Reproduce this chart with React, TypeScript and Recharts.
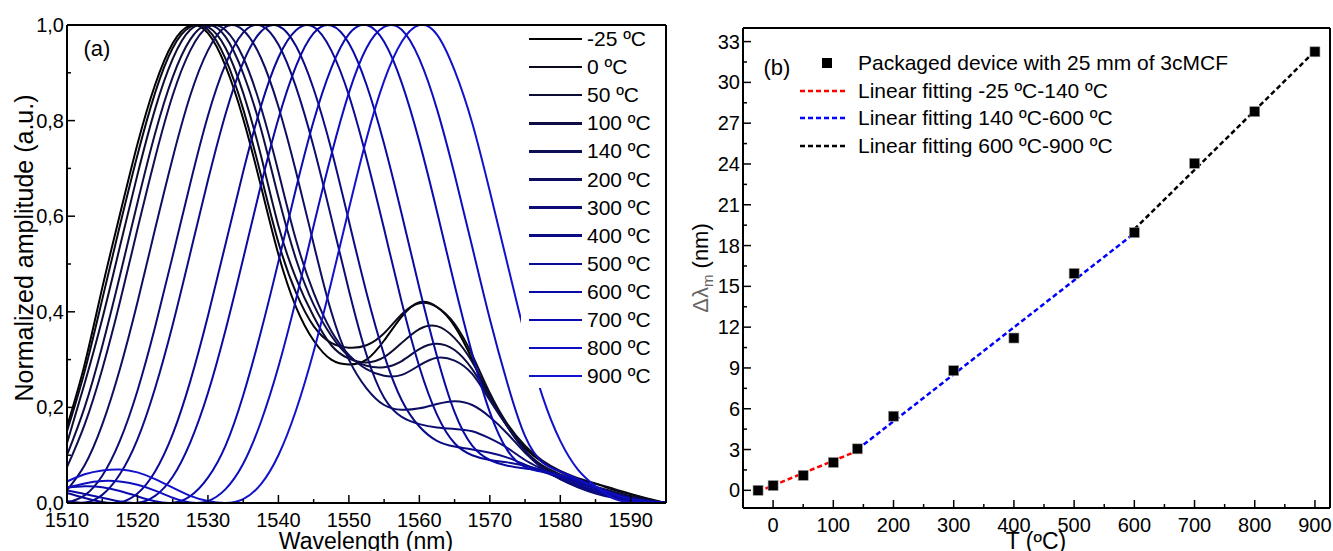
import { LineChart, Line, XAxis, YAxis, Legend, ComposedChart, Scatter } from 'recharts';

const FONT = '"Liberation Sans", Arial, Helvetica, sans-serif';

// ---- panel (a): normalized spectra ----
const wavelengths = [
  1510, 1512.5, 1515, 1517.5, 1520, 1522.5, 1525, 1527.5, 1530, 1532.5, 1535, 1537.5,
  1540, 1542.5, 1545, 1547.5, 1550, 1552.5, 1555, 1557.5, 1560, 1562.5, 1565, 1567.5,
  1570, 1572.5, 1575, 1577.5, 1580, 1582.5, 1585, 1587.5, 1590, 1592.5, 1595,
];

const tempLabels = ['-25 ºC', '0 ºC', '50 ºC', '100 ºC', '140 ºC', '200 ºC', '300 ºC', '400 ºC', '500 ºC', '600 ºC', '700 ºC', '800 ºC', '900 ºC'];

const lineColors = ['#000000', '#0a0a1a', '#0d0d33', '#0e0e44', '#0e0e52', '#0d0d62', '#0c0c74', '#0b0b86', '#0a0a96', '#0909a4', '#0b0bb2', '#0e0ebf', '#1212cc'];

const ampM25 = [0.16, 0.29, 0.45, 0.603, 0.751, 0.875, 0.962, 0.999, 0.983, 0.914, 0.804, 0.664, 0.52, 0.41, 0.34, 0.30, 0.29, 0.30, 0.34, 0.39, 0.42, 0.41, 0.37, 0.30, 0.22, 0.16, 0.115, 0.085, 0.065, 0.05, 0.04, 0.028, 0.018, 0.008, 0];
const amp0 = [0.15, 0.275, 0.426, 0.58, 0.728, 0.858, 0.952, 0.996, 0.99, 0.929, 0.824, 0.687, 0.545, 0.44, 0.37, 0.335, 0.325, 0.33, 0.355, 0.395, 0.418, 0.41, 0.375, 0.31, 0.23, 0.165, 0.12, 0.088, 0.067, 0.052, 0.041, 0.03, 0.019, 0.009, 0];
const amp50 = [0.125, 0.25, 0.385, 0.536, 0.687, 0.824, 0.929, 0.99, 0.996, 0.952, 0.858, 0.728, 0.58, 0.47, 0.39, 0.33, 0.302, 0.294, 0.305, 0.335, 0.364, 0.37, 0.345, 0.295, 0.225, 0.16, 0.11, 0.078, 0.06, 0.045, 0.034, 0.024, 0.014, 0.006, 0];
const amp100 = [0.1, 0.2, 0.328, 0.475, 0.628, 0.773, 0.891, 0.97, 1.0, 0.975, 0.899, 0.784, 0.64, 0.51, 0.415, 0.35, 0.307, 0.287, 0.284, 0.297, 0.322, 0.333, 0.32, 0.28, 0.22, 0.16, 0.11, 0.075, 0.057, 0.043, 0.031, 0.021, 0.012, 0.005, 0];
const amp140 = [0.075, 0.164, 0.28, 0.42, 0.573, 0.722, 0.853, 0.947, 0.996, 0.989, 0.932, 0.829, 0.693, 0.55, 0.44, 0.36, 0.31, 0.28, 0.266, 0.268, 0.288, 0.304, 0.298, 0.27, 0.215, 0.16, 0.11, 0.072, 0.052, 0.038, 0.027, 0.018, 0.01, 0.004, 0];
const amp200 = [0.027, 0.079, 0.164, 0.28, 0.42, 0.573, 0.722, 0.853, 0.947, 0.996, 0.989, 0.932, 0.829, 0.693, 0.542, 0.40, 0.30, 0.24, 0.205, 0.195, 0.198, 0.207, 0.213, 0.205, 0.18, 0.145, 0.105, 0.073, 0.05, 0.034, 0.022, 0.013, 0.007, 0.003, 0];
const amp300 = [0.0004, 0.016, 0.057, 0.13, 0.235, 0.368, 0.517, 0.669, 0.81, 0.918, 0.984, 0.999, 0.959, 0.87, 0.745, 0.597, 0.445, 0.31, 0.22, 0.18, 0.165, 0.158, 0.155, 0.15, 0.135, 0.115, 0.09, 0.07, 0.05, 0.033, 0.02, 0.011, 0.005, 0.002, 0];
const amp400 = [0.004, 0.0008, 0.017, 0.06, 0.133, 0.24, 0.373, 0.523, 0.675, 0.814, 0.922, 0.986, 0.998, 0.956, 0.866, 0.74, 0.59, 0.44, 0.31, 0.215, 0.16, 0.13, 0.118, 0.112, 0.105, 0.095, 0.08, 0.066, 0.052, 0.037, 0.023, 0.012, 0.005, 0.002, 0];
const amp500 = [0.021, 0.0105, 0.002, 0.0015, 0.02, 0.066, 0.144, 0.255, 0.391, 0.542, 0.693, 0.829, 0.932, 0.989, 0.996, 0.947, 0.853, 0.722, 0.573, 0.42, 0.285, 0.185, 0.125, 0.1, 0.09, 0.085, 0.078, 0.068, 0.055, 0.04, 0.026, 0.014, 0.006, 0.002, 0];
const amp600 = [0.026, 0.019, 0.011, 0.003, 0.0003, 0.015, 0.055, 0.127, 0.23, 0.362, 0.511, 0.664, 0.804, 0.914, 0.983, 0.999, 0.962, 0.875, 0.751, 0.604, 0.45, 0.307, 0.19, 0.12, 0.09, 0.078, 0.072, 0.067, 0.058, 0.045, 0.03, 0.017, 0.008, 0.003, 0];
const amp700 = [0.032, 0.035, 0.033, 0.025, 0.014, 0.0035, 0.0003, 0.0145, 0.053, 0.12, 0.225, 0.357, 0.505, 0.658, 0.799, 0.91, 0.981, 1.0, 0.965, 0.879, 0.756, 0.61, 0.456, 0.312, 0.19, 0.11, 0.075, 0.065, 0.058, 0.048, 0.034, 0.02, 0.01, 0.004, 0];
const amp800 = [0.032, 0.041, 0.046, 0.045, 0.038, 0.026, 0.011, 0.001, 0.004, 0.029, 0.082, 0.169, 0.285, 0.426, 0.58, 0.728, 0.858, 0.952, 0.996, 0.99, 0.929, 0.824, 0.687, 0.536, 0.385, 0.25, 0.14, 0.085, 0.066, 0.05, 0.033, 0.018, 0.008, 0.003, 0];
const amp900 = [0.045, 0.06, 0.068, 0.07, 0.064, 0.05, 0.032, 0.015, 0.004, 0.0, 0.008, 0.039, 0.1, 0.194, 0.317, 0.462, 0.615, 0.762, 0.883, 0.965, 1.0, 0.98, 0.905, 0.795, 0.652, 0.5, 0.35, 0.222, 0.13, 0.07, 0.035, 0.01, 0.002, 0, 0];

const spectra = [ampM25, amp0, amp50, amp100, amp140, amp200, amp300, amp400, amp500, amp600, amp700, amp800, amp900];

const wlTicks = [1510, 1515, 1520, 1525, 1530, 1535, 1540, 1545, 1550, 1555, 1560, 1565, 1570, 1575, 1580, 1585, 1590, 1595];
const ampTicks = [0, 0.1, 0.2, 0.3, 0.4, 0.5, 0.6, 0.7, 0.8, 0.9, 1.0];

// ---- panel (b): wavelength shift vs temperature ----
const tempsB = [-25, 0, 50, 100, 140, 200, 300, 400, 500, 600, 700, 800, 900];
const shiftB = [0, 0.35, 1.1, 2.05, 3.05, 5.45, 8.8, 11.2, 15.95, 18.95, 24.05, 27.85, 32.25];

const fitLowT = [-25, 140];
const fitLowV = [-0.1, 2.9];
const fitMidT = [140, 600];
const fitMidV = [3.0, 18.9];
const fitHighT = [600, 900];
const fitHighV = [19.2, 32.3];

const tTicks = [-50, 0, 50, 100, 150, 200, 250, 300, 350, 400, 450, 500, 550, 600, 650, 700, 750, 800, 850, 900];
const shiftTicks = [0, 1.5, 3, 4.5, 6, 7.5, 9, 10.5, 12, 13.5, 15, 16.5, 18, 19.5, 21, 22.5, 24, 25.5, 27, 28.5, 30, 31.5, 33];

const spectraRows = wavelengths.map((wl, i) => {
  const row: any = { wl };
  spectra.forEach((s, k) => { row['s' + k] = s[i]; });
  return row;
});
const pointsB = tempsB.map((T, i) => ({ T, dl: shiftB[i] }));
const toRows = (ts: number[], vs: number[]) => ts.map((T, i) => ({ T, dl: vs[i] }));

// inward ticks on every side of the frame
const inTick = (side: string, isMajor: (v: number) => boolean, fmt?: (v: number) => string) => (p: any) => {
  const v = p.payload.value;
  const major = isMajor(v);
  const len = major ? 8 : 4;
  const { x, y } = p;
  let line;
  if (side === 'bottom') line = <line x1={x} x2={x} y1={y} y2={y - len} />;
  else if (side === 'top') line = <line x1={x} x2={x} y1={y} y2={y + len} />;
  else if (side === 'left') line = <line x1={x} x2={x + len} y1={y} y2={y} />;
  else line = <line x1={x} x2={x - len} y1={y} y2={y} />;
  let label = null;
  if (major && fmt) {
    if (side === 'bottom')
      label = <text x={x} y={y + 24} textAnchor="middle" fontSize={20} fontFamily={FONT} fill="#000" stroke="none">{fmt(v)}</text>;
    if (side === 'left')
      label = <text x={x - 3} y={y + 7} textAnchor="end" fontSize={20} fontFamily={FONT} fill="#000" stroke="none">{fmt(v)}</text>;
  }
  return (
    <g stroke="#000" strokeWidth={1.5}>
      {line}
      {label}
    </g>
  );
};

const axisLine = { stroke: '#000', strokeWidth: 2 };

function SpectraLegend() {
  return (
    <div style={{ width: 136, height: 362, background: '#fff', position: 'relative', fontFamily: FONT, fontSize: 21, color: '#000' }}>
      {tempLabels.map((t, i) => {
        const cy = 13 + 28.1 * i;
        return (
          <div key={t}>
            <div style={{ position: 'absolute', left: 8, top: cy - 1.25, width: 53, height: 2.5, background: lineColors[i] }} />
            <div style={{ position: 'absolute', left: 66, top: cy - 12, lineHeight: '24px', whiteSpace: 'nowrap' }}>{t}</div>
          </div>
        );
      })}
    </div>
  );
}

const fitLegend = [
  { label: 'Linear fitting -25 ºC-140 ºC', color: '#ff0000' },
  { label: 'Linear fitting 140 ºC-600 ºC', color: '#0000ff' },
  { label: 'Linear fitting 600 ºC-900 ºC', color: '#000000' },
];

function ShiftLegend() {
  const rowY = [15, 42.7, 70.3, 98];
  return (
    <div style={{ width: 460, height: 112, position: 'relative', fontFamily: FONT, fontSize: 21, color: '#000' }}>
      <div style={{ position: 'absolute', left: 27, top: rowY[0] - 5, width: 10, height: 10, background: '#000' }} />
      <div style={{ position: 'absolute', left: 63, top: rowY[0] - 12, lineHeight: '24px', whiteSpace: 'nowrap' }}>
        Packaged device with 25 mm of 3cMCF
      </div>
      {fitLegend.map((f, i) => (
        <div key={f.label}>
          <svg style={{ position: 'absolute', left: 5, top: rowY[i + 1] - 3 }} width={48} height={6}>
            <line x1={0} x2={48} y1={3} y2={3} stroke={f.color} strokeWidth={2.5} strokeDasharray="5 3" />
          </svg>
          <div style={{ position: 'absolute', left: 63, top: rowY[i + 1] - 12, lineHeight: '24px', whiteSpace: 'nowrap' }}>{f.label}</div>
        </div>
      ))}
    </div>
  );
}

const Square = (p: any) => (
  <rect x={p.cx - 5} y={p.cy - 5} width={10} height={10} fill="#000" stroke="#999" strokeWidth={0.6} />
);

export default function App() {
  const commaFmt = (v: number) => v.toFixed(1).replace('.', ',');
  return (
    <div style={{ position: 'absolute', left: 0, top: 0, width: 1333, height: 551, background: '#fff', overflow: 'hidden' }}>
      <div style={{ position: 'absolute', left: 0, top: 0 }}>
        <LineChart width={670} height={551} data={spectraRows} margin={{ top: 24, right: 3, bottom: 0, left: 0 }}>
          <XAxis dataKey="wl" type="number" domain={[1510, 1595]} ticks={wlTicks} interval={0} height={48}
            axisLine={axisLine} tickLine={false} tickSize={0} tickMargin={0}
            tick={inTick('bottom', (v) => v % 10 === 0, (v) => String(v))} />
          <XAxis xAxisId="top" orientation="top" type="number" domain={[1510, 1595]} ticks={wlTicks} interval={0} height={1}
            axisLine={axisLine} tickLine={false} tickSize={0} tickMargin={0} tick={inTick('top', (v) => v % 10 === 0)} />
          <YAxis type="number" domain={[0, 1]} allowDataOverflow ticks={ampTicks} interval={0} width={67}
            axisLine={axisLine} tickLine={false} tickSize={0} tickMargin={0}
            tick={inTick('left', (v) => Math.round(v * 10) % 2 === 0, commaFmt)} />
          <YAxis yAxisId="right" orientation="right" type="number" domain={[0, 1]} ticks={ampTicks} interval={0} width={1}
            axisLine={axisLine} tickLine={false} tickSize={0} tickMargin={0}
            tick={inTick('right', (v) => Math.round(v * 10) % 2 === 0)} />
          {spectra.map((_, k) => (
            <Line key={k} type="natural" dataKey={'s' + k} stroke={lineColors[k]} strokeWidth={2} dot={false} isAnimationActive={false} />
          ))}
          <Legend layout="vertical" align="center" verticalAlign="middle" content={() => <SpectraLegend />}
            wrapperStyle={{ left: 521, top: 26, width: 136, height: 362 }} />
        </LineChart>
      </div>
      <div style={{ position: 'absolute', left: 670, top: 0 }}>
        <ComposedChart width={663} height={551} margin={{ top: 27, right: 2, bottom: 0, left: 0 }}>
          <XAxis dataKey="T" type="number" domain={[-50, 925]} ticks={tTicks} interval={0} height={43}
            axisLine={axisLine} tickLine={false} tickSize={0} tickMargin={0}
            tick={inTick('bottom', (v) => v % 100 === 0 && v >= 0, (v) => String(v))} />
          <XAxis xAxisId="top" orientation="top" type="number" domain={[-50, 925]} ticks={tTicks} interval={0} height={1}
            axisLine={axisLine} tickLine={false} tickSize={0} tickMargin={0} tick={inTick('top', (v) => v % 100 === 0 && v >= 0)} />
          <YAxis type="number" domain={[-1.3, 34]} allowDataOverflow ticks={shiftTicks} interval={0} width={73}
            axisLine={axisLine} tickLine={false} tickSize={0} tickMargin={0}
            tick={inTick('left', (v) => v % 3 === 0, (v) => String(v))} />
          <YAxis yAxisId="right" orientation="right" type="number" domain={[-1.3, 34]} ticks={shiftTicks} interval={0} width={1}
            axisLine={axisLine} tickLine={false} tickSize={0} tickMargin={0} tick={inTick('right', (v) => v % 3 === 0)} />
          <Line data={toRows(fitLowT, fitLowV)} dataKey="dl" stroke="#ff0000" strokeWidth={2.5} strokeDasharray="5 3" dot={false} isAnimationActive={false} />
          <Line data={toRows(fitMidT, fitMidV)} dataKey="dl" stroke="#0000ff" strokeWidth={2.5} strokeDasharray="5 3" dot={false} isAnimationActive={false} />
          <Line data={toRows(fitHighT, fitHighV)} dataKey="dl" stroke="#000000" strokeWidth={2.5} strokeDasharray="5 3" dot={false} isAnimationActive={false} />
          <Scatter data={pointsB} dataKey="dl" shape={Square} isAnimationActive={false} />
          <Legend layout="vertical" align="center" verticalAlign="middle" content={() => <ShiftLegend />}
            wrapperStyle={{ left: 125, top: 48, width: 460, height: 112 }} />
        </ComposedChart>
      </div>
      <svg width={1333} height={551} style={{ position: 'absolute', left: 0, top: 0, pointerEvents: 'none' }}>
        <g fontFamily={FONT} fill="#000">
          <text x={97} y={56} fontSize={22} textAnchor="middle">(a)</text>
          <text x={366} y={549} fontSize={23} textAnchor="middle">Wavelength (nm)</text>
          <text transform="translate(33,248) rotate(-90)" fontSize={25} textAnchor="middle">Normalized amplitude (a.u.)</text>
          <text x={777} y={75} fontSize={22} textAnchor="middle">(b)</text>
          <text x={1036} y={549} fontSize={23} textAnchor="middle">T (ºC)</text>
          <text transform="translate(708,268) rotate(-90)" fontSize={22} textAnchor="middle">
            <tspan fill="#666">Δλ</tspan>
            <tspan fill="#666" fontSize={15} dy={5}>m</tspan>
            <tspan dy={-5}> (nm)</tspan>
          </text>
        </g>
      </svg>
    </div>
  );
}
